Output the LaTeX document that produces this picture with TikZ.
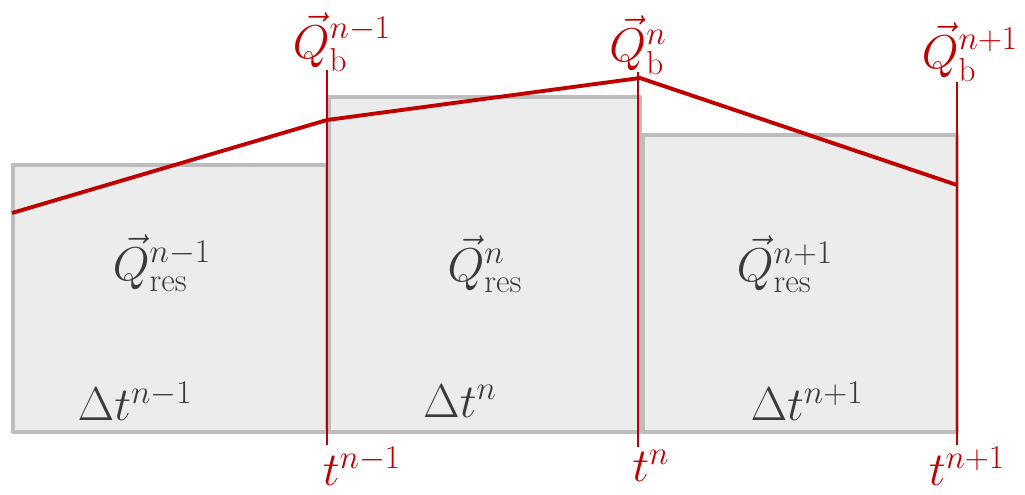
\RequirePackage{fix-cm}
\documentclass[tikz,border=0pt]{standalone}
\usepackage{amsmath}
\usepackage{xcolor}
\usepackage{tikz}
\usetikzlibrary{calc,positioning}
\definecolor{stepRed}{HTML}{C00000}
\definecolor{cellGray}{HTML}{BDBDBD}
\definecolor{cellFill}{HTML}{ECECEC}
\definecolor{textGray}{HTML}{3A3A3A}
\tikzset{
  cell/.style={draw=cellGray, fill=cellFill, line width=2.6pt,
    line join=round},
  time line/.style={draw=stepRed, line width=1pt},
  flux line/.style={draw=stepRed, line width=2.2pt, line join=round},
  flux label/.style={text=stepRed, inner sep=0pt,
    font=\fontsize{27}{31}\selectfont},
  time label/.style={text=stepRed, inner sep=0pt,
    font=\fontsize{27}{31}\selectfont},
  cell label/.style={text=textGray, inner sep=0pt,
    font=\fontsize{27}{31}\selectfont}
}

\begin{document}
\begin{tikzpicture}[x=0.02cm, y=-0.02cm]
  \useasboundingbox (0,0) rectangle (1025,494);
  % cells
  \draw[cell] (13,165) rectangle (327,432);
  \draw[cell] (329,97) rectangle (640,432);
  \draw[cell] (643,135) rectangle (957,432);
  % time levels
  \coordinate (top1) at (327,70);  \coordinate (bot1) at (327,445);
  \coordinate (top2) at (638,72);  \coordinate (bot2) at (638,447);
  \coordinate (top3) at (957,82);  \coordinate (bot3) at (957,445);
  \draw[time line] (top1) -- (bot1);
  \draw[time line] (top2) -- (bot2);
  \draw[time line] (top3) -- (bot3);
  % boundary flux
  \coordinate (f0) at (12,213);
  \coordinate (f1) at (327,120);
  \coordinate (f2) at (640,78);
  \coordinate (f3) at (957,185);
  \draw[flux line] (f0) -- (f1) -- (f2) -- (f3);
  % labels
  \node[flux label] (qb1) at (342,42) {$\vec{Q}_{\mathrm{b}}^{n-1}$};
  \node[flux label] (qb2) at (638,45) {$\vec{Q}_{\mathrm{b}}^{n}$};
  \node[flux label] (qb3) at (970,52) {$\vec{Q}_{\mathrm{b}}^{n+1}$};
  \node[cell label] (qr1) at (162,263) {$\vec{Q}_{\mathrm{res}}^{n-1}$};
  \node[cell label] (qr2) at (485,264) {$\vec{Q}_{\mathrm{res}}^{n}$};
  \node[cell label] (qr3) at (785,264) {$\vec{Q}_{\mathrm{res}}^{n+1}$};
  \node[cell label] (dt1) at (135,401) {$\Delta t^{n-1}$};
  \node[cell label] (dt2) at (460,401) {$\Delta t^{n}$};
  \node[cell label] (dt3) at (807,401) {$\Delta t^{n+1}$};
  \node[time label] (t1) at (362,466) {$t^{n-1}$};
  \node[time label] (t2) at (651,466) {$t^{n}$};
  \node[time label] (t3) at (967,466) {$t^{n+1}$};
\end{tikzpicture}
\end{document}
